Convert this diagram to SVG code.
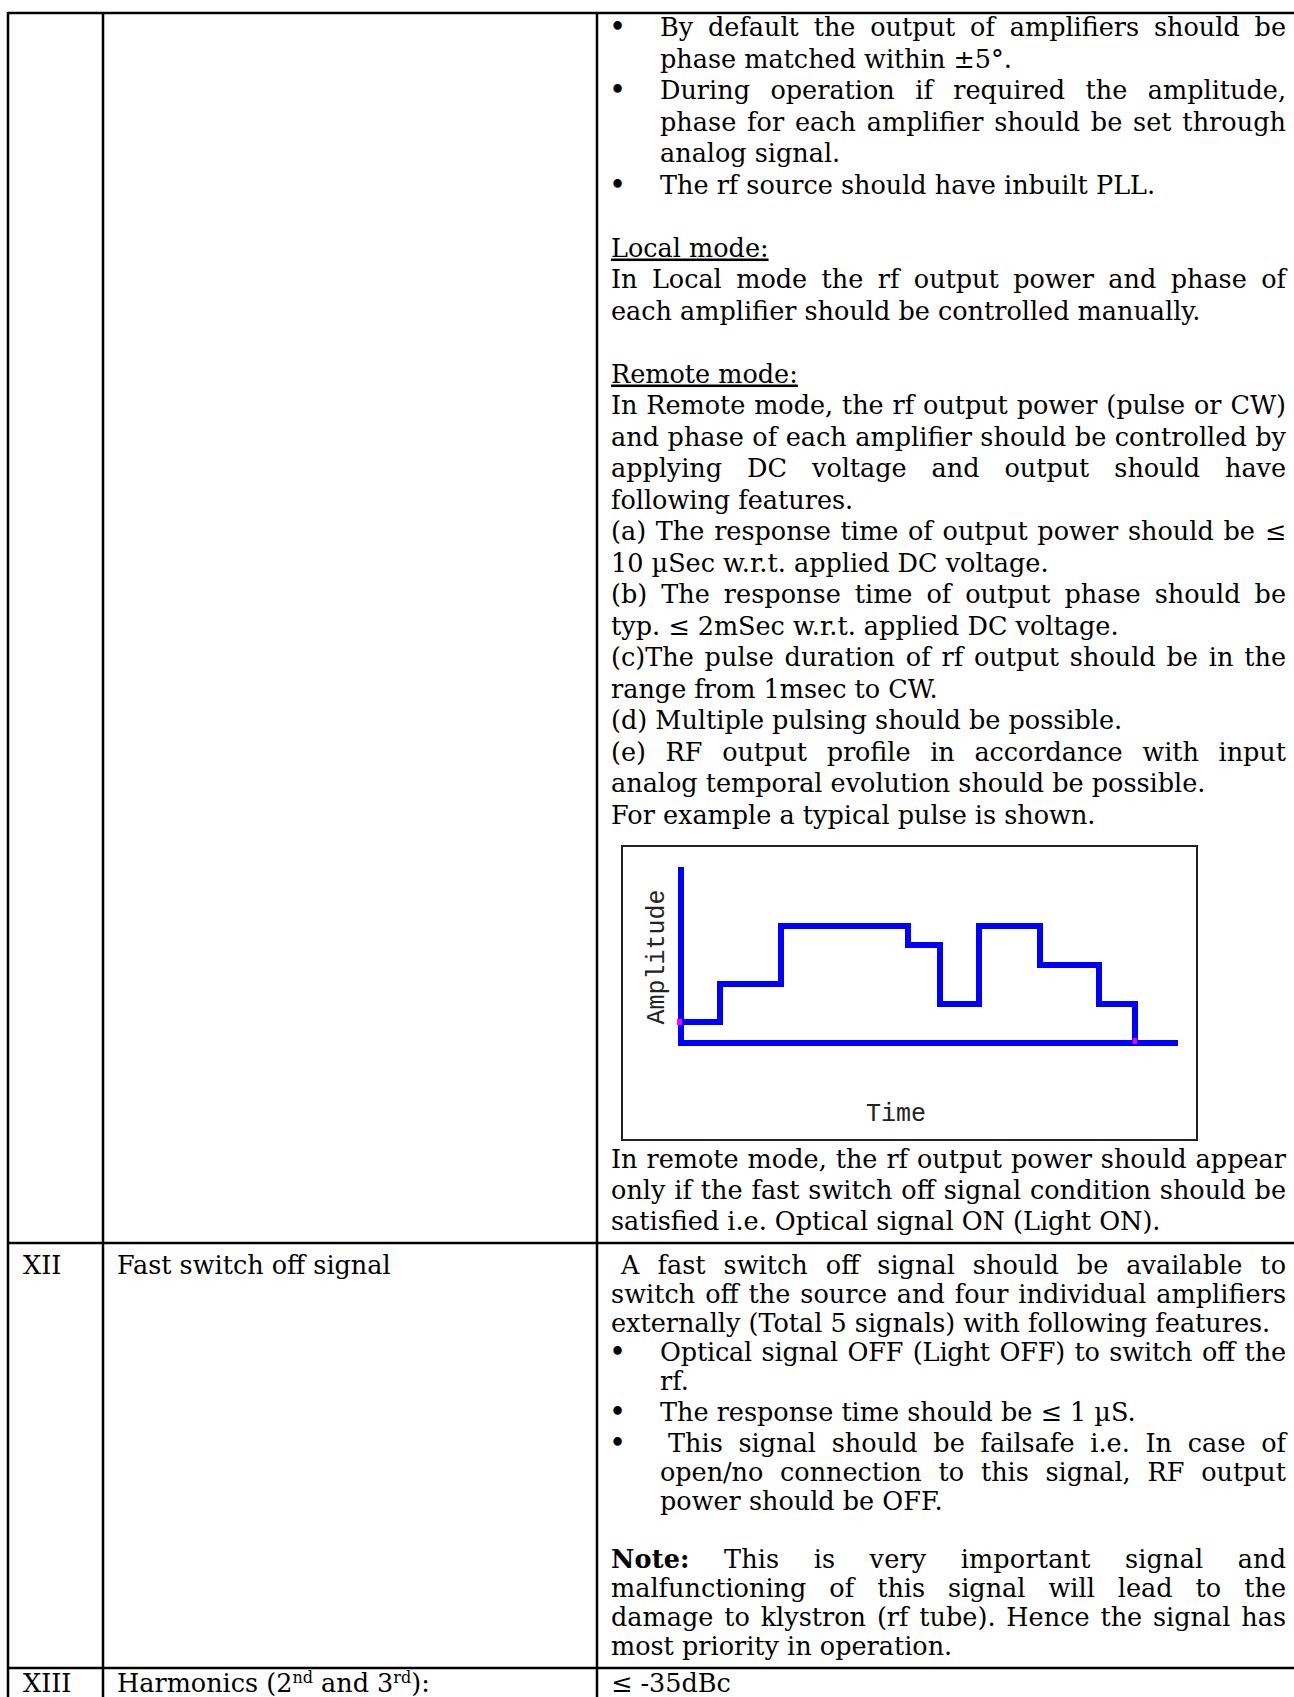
<svg xmlns="http://www.w3.org/2000/svg" width="1294" height="1697" viewBox="0 0 1294 1697">
<defs>
<style>
.t{font-family:"DejaVu Serif","Liberation Serif",serif;font-size:25.5px;fill:#000}
.b{font-family:"DejaVu Serif","Liberation Serif",serif;font-size:29px;fill:#000}
.m{font-family:"Liberation Mono","DejaVu Sans Mono",monospace;font-size:25px;fill:#222}
.u{text-decoration:underline}
.grid line{stroke:#000;stroke-width:2.5}
.blue{stroke:#0000ff;stroke-width:6;fill:none;stroke-linejoin:miter}
.sup{font-size:16px}
</style>
</defs>
<rect width="1294" height="1697" fill="#fff"/>
<g id="table-grid" class="grid">
<line x1="8" y1="13" x2="1294" y2="13"/>
<line x1="8" y1="12" x2="8" y2="1697"/>
<line x1="103" y1="12" x2="103" y2="1697"/>
<line x1="597" y1="12" x2="597" y2="1697"/>
<line x1="8" y1="1243" x2="1294" y2="1243"/>
<line x1="8" y1="1668" x2="1294" y2="1668"/>
</g>
<g id="row-xi-spec">
<text class="b" x="609" y="37">•</text>
<text class="t" x="660" y="36" textLength="626" lengthAdjust="spacing" word-spacing="6.7">By default the output of amplifiers should be</text>
<text class="t" x="660" y="67.5">phase matched within ±5°.</text>
<text class="b" x="609" y="100">•</text>
<text class="t" x="660" y="99" textLength="626" lengthAdjust="spacing" word-spacing="12.4">During operation if required the amplitude,</text>
<text class="t" x="660" y="130.5" textLength="626" lengthAdjust="spacing" word-spacing="2.6">phase for each amplifier should be set through</text>
<text class="t" x="660" y="162">analog signal.</text>
<text class="b" x="609" y="194.5">•</text>
<text class="t" x="660" y="193.5">The rf source should have inbuilt PLL.</text>
<text class="t u" x="611" y="256.5">Local mode:</text>
<text class="t" x="611" y="288" textLength="675" lengthAdjust="spacing" word-spacing="6.4">In Local mode the rf output power and phase of</text>
<text class="t" x="611" y="319.5">each amplifier should be controlled manually.</text>
<text class="t u" x="611" y="382.5">Remote mode:</text>
<text class="t" x="611" y="414" textLength="675" lengthAdjust="spacing" word-spacing="0.9">In Remote mode, the rf output power (pulse or CW)</text>
<text class="t" x="611" y="445.5" textLength="675" lengthAdjust="spacing" word-spacing="0.3">and phase of each amplifier should be controlled by</text>
<text class="t" x="611" y="477" textLength="675" lengthAdjust="spacing" word-spacing="17">applying DC voltage and output should have</text>
<text class="t" x="611" y="508.5">following features.</text>
<text class="t" x="611" y="540" textLength="675" lengthAdjust="spacing" word-spacing="1.6">(a) The response time of output power should be ≤</text>
<text class="t" x="611" y="571.5">10 µSec w.r.t. applied DC voltage.</text>
<text class="t" x="611" y="603" textLength="675" lengthAdjust="spacing" word-spacing="5.8">(b) The response time of output phase should be</text>
<text class="t" x="611" y="634.5">typ. ≤ 2mSec w.r.t. applied DC voltage.</text>
<text class="t" x="611" y="666" textLength="675" lengthAdjust="spacing" word-spacing="2.7">(c)The pulse duration of rf output should be in the</text>
<text class="t" x="611" y="697.5">range from 1msec to CW.</text>
<text class="t" x="611" y="729">(d) Multiple pulsing should be possible.</text>
<text class="t" x="611" y="760.5" textLength="675" lengthAdjust="spacing" word-spacing="11.7">(e) RF output profile in accordance with input</text>
<text class="t" x="611" y="792">analog temporal evolution should be possible.</text>
<text class="t" x="611" y="823.5">For example a typical pulse is shown.</text>
<text class="t" x="611" y="1168" textLength="675" lengthAdjust="spacing" word-spacing="0.8">In remote mode, the rf output power should appear</text>
<text class="t" x="611" y="1199" textLength="675" lengthAdjust="spacing" word-spacing="0.7">only if the fast switch off signal condition should be</text>
<text class="t" x="611" y="1230">satisfied i.e. Optical signal ON (Light ON).</text>
</g>
<g id="pulse-chart">
<rect x="622" y="846" width="575" height="294" fill="none" stroke="#222" stroke-width="2"/>
<polyline class="blue" points="681,867 681,1043 1178,1043"/>
<polyline class="blue" points="681,1022 720,1022 720,984 781,984 781,926 908,926 908,945 940,945 940,1004 979,1004 979,926 1040,926 1040,965 1099,965 1099,1004 1135,1004 1135,1043"/>
<rect x="677" y="1019" width="5" height="6" fill="#ff00ff"/>
<rect x="1133" y="1038" width="4" height="6" fill="#ff00ff"/>
<text class="m" transform="translate(664,957) rotate(-90)" text-anchor="middle">Amplitude</text>
<text class="m" x="896" y="1121" text-anchor="middle">Time</text>
</g>
<g id="row-xii">
<text class="t" x="23" y="1274">XII</text>
<text class="t" x="117" y="1274">Fast switch off signal</text>
<text class="t" x="621" y="1274" textLength="665" lengthAdjust="spacing" word-spacing="9.9">A fast switch off signal should be available to</text>
<text class="t" x="611" y="1303" textLength="675" lengthAdjust="spacing" word-spacing="1.7">switch off the source and four individual amplifiers</text>
<text class="t" x="611" y="1332">externally (Total 5 signals) with following features.</text>
<text class="b" x="609" y="1362">•</text>
<text class="t" x="660" y="1361" textLength="626" lengthAdjust="spacing" word-spacing="1.6">Optical signal OFF (Light OFF) to switch off the</text>
<text class="t" x="660" y="1390">rf.</text>
<text class="b" x="609" y="1422">•</text>
<text class="t" x="660" y="1421">The response time should be ≤ 1 µS.</text>
<text class="b" x="609" y="1453">•</text>
<text class="t" x="668" y="1452" textLength="618" lengthAdjust="spacing" word-spacing="7.5">This signal should be failsafe i.e. In case of</text>
<text class="t" x="660" y="1481" textLength="626" lengthAdjust="spacing" word-spacing="8.8">open/no connection to this signal, RF output</text>
<text class="t" x="660" y="1510">power should be OFF.</text>
<text class="t" x="611" y="1568" textLength="675" lengthAdjust="spacing" word-spacing="26"><tspan font-weight="bold">Note:</tspan> This is very important signal and</text>
<text class="t" x="611" y="1597" textLength="675" lengthAdjust="spacing" word-spacing="14.9">malfunctioning of this signal will lead to the</text>
<text class="t" x="611" y="1626" textLength="675" lengthAdjust="spacing" word-spacing="2.7">damage to klystron (rf tube). Hence the signal has</text>
<text class="t" x="611" y="1655">most priority in operation.</text>
</g>
<g id="row-xiii">
<text class="t" x="23" y="1692">XIII</text>
<text class="t" x="117" y="1692">Harmonics (2<tspan class="sup" dy="-9">nd</tspan><tspan dy="9"> and 3</tspan><tspan class="sup" dy="-9">rd</tspan><tspan dy="9">):</tspan></text>
<text class="t" x="611" y="1692">≤ -35dBc</text>
</g>
</svg>
